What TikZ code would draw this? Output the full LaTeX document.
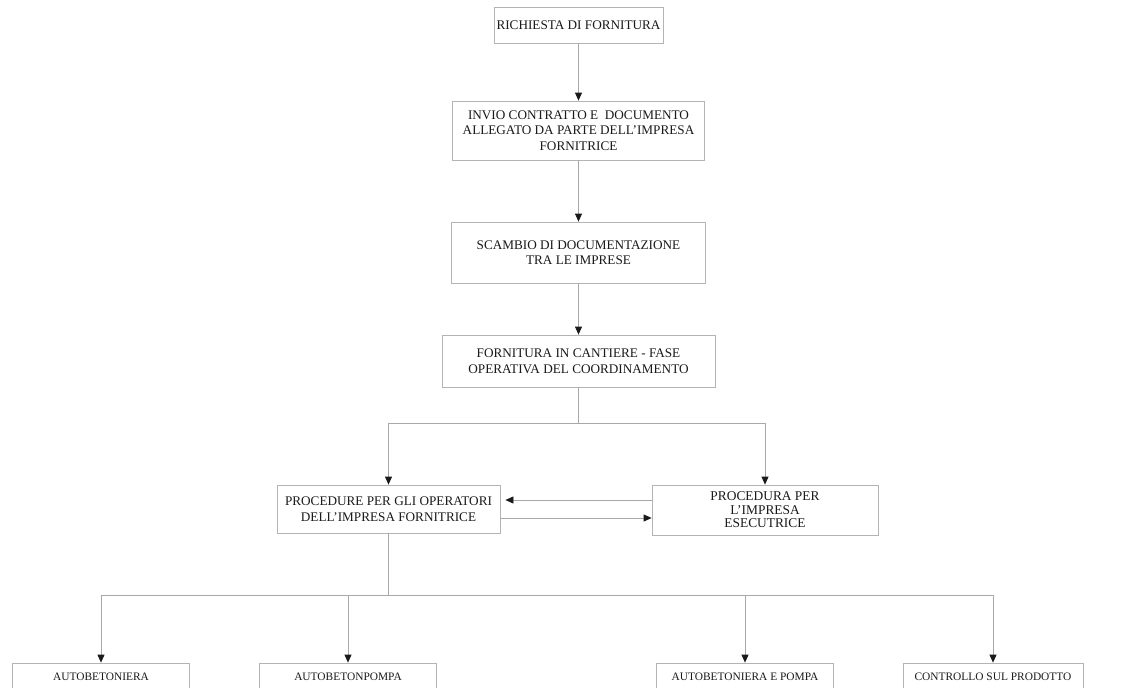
\documentclass[tikz,border=0pt]{standalone}
\usepackage{fontspec}
\setmainfont{Liberation Serif}
\usetikzlibrary{arrows.meta,calc}
\definecolor{inkc}{HTML}{1A1A1A}
\definecolor{boxc}{HTML}{B4B4B4}
\definecolor{linec}{HTML}{A8A8A8}
\tikzset{
  fbox/.style={draw=boxc, line width=0.8pt, align=center, font=\fontsize{13.2}{15.5}\selectfont, text=inkc, inner sep=1pt},
  fboxs/.style={fbox, font=\fontsize{13.4}{13.5}\selectfont},
  fboxb/.style={fbox, font=\fontsize{11.4}{13.5}\selectfont},
  conn/.style={draw=linec, line width=0.8pt},
  arr/.style={conn, -{Triangle[width=7pt,length=8pt,color=inkc]}},
}
\begin{document}
\begin{tikzpicture}[x=1pt,y=-1pt]
\clip (0,0) rectangle (1138,688);
\fill[white] (0,0) rectangle (1138,688);
% boxes
\node[fbox, minimum width=169, minimum height=36] (b1) at (578.5,25) {RICHIESTA DI FORNITURA};
\node[fbox, minimum width=252, minimum height=59] (b2) at (578.5,130.5) {INVIO CONTRATTO E\ \ DOCUMENTO\\ALLEGATO DA PARTE DELL'IMPRESA\\FORNITRICE};
\node[fbox, minimum width=254, minimum height=61] (b3) at (578.5,252.5) {SCAMBIO DI DOCUMENTAZIONE\\TRA LE IMPRESE};
\node[fbox, minimum width=273, minimum height=52] (b4) at (578.5,361) {FORNITURA IN CANTIERE - FASE\\OPERATIVA DEL COORDINAMENTO};
\node[fbox, minimum width=223, minimum height=48] (b5) at (388.5,509) {PROCEDURE PER GLI OPERATORI\\DELL'IMPRESA FORNITRICE};
\node[fboxs, minimum width=226, minimum height=50] (b6) at (765,510) {PROCEDURA PER\\L'IMPRESA\\ESECUTRICE};
\node[fboxb, minimum width=177, minimum height=28] (c1) at (101,677) {AUTOBETONIERA};
\node[fboxb, minimum width=177, minimum height=28] (c2) at (348,677) {AUTOBETONPOMPA};
\node[fboxb, minimum width=177, minimum height=28] (c3) at (745,677) {AUTOBETONIERA E POMPA};
\node[fboxb, minimum width=180, minimum height=28] (c4) at (993,677) {CONTROLLO SUL PRODOTTO};
% junctions
\coordinate (j1) at (578.5,423);
\coordinate (j2) at (388.5,595);
% connectors
\draw[arr] (b1.south) -- (b2.north);
\draw[arr] (b2.south) -- (b3.north);
\draw[arr] (b3.south) -- (b4.north);
\draw[conn] (b4.south) -- (j1);
\draw[arr] (j1) -| (b5.north);
\draw[arr] (j1) -| (b6.north);
\draw[arr] ([yshift=10pt]b6.west) -- ([yshift=10pt,xshift=5pt]b6.west -| b5.east);
\draw[arr] ([yshift=-9pt]b5.east) -- ([yshift=-9pt]b5.east -| b6.west);
\draw[conn] (b5.south) -- (j2);
\draw[arr] (j2) -| (c1.north);
\draw[arr] (j2) -| (c2.north);
\draw[arr] (j2) -| (c3.north);
\draw[arr] (j2) -| (c4.north);
\end{tikzpicture}
\end{document}
